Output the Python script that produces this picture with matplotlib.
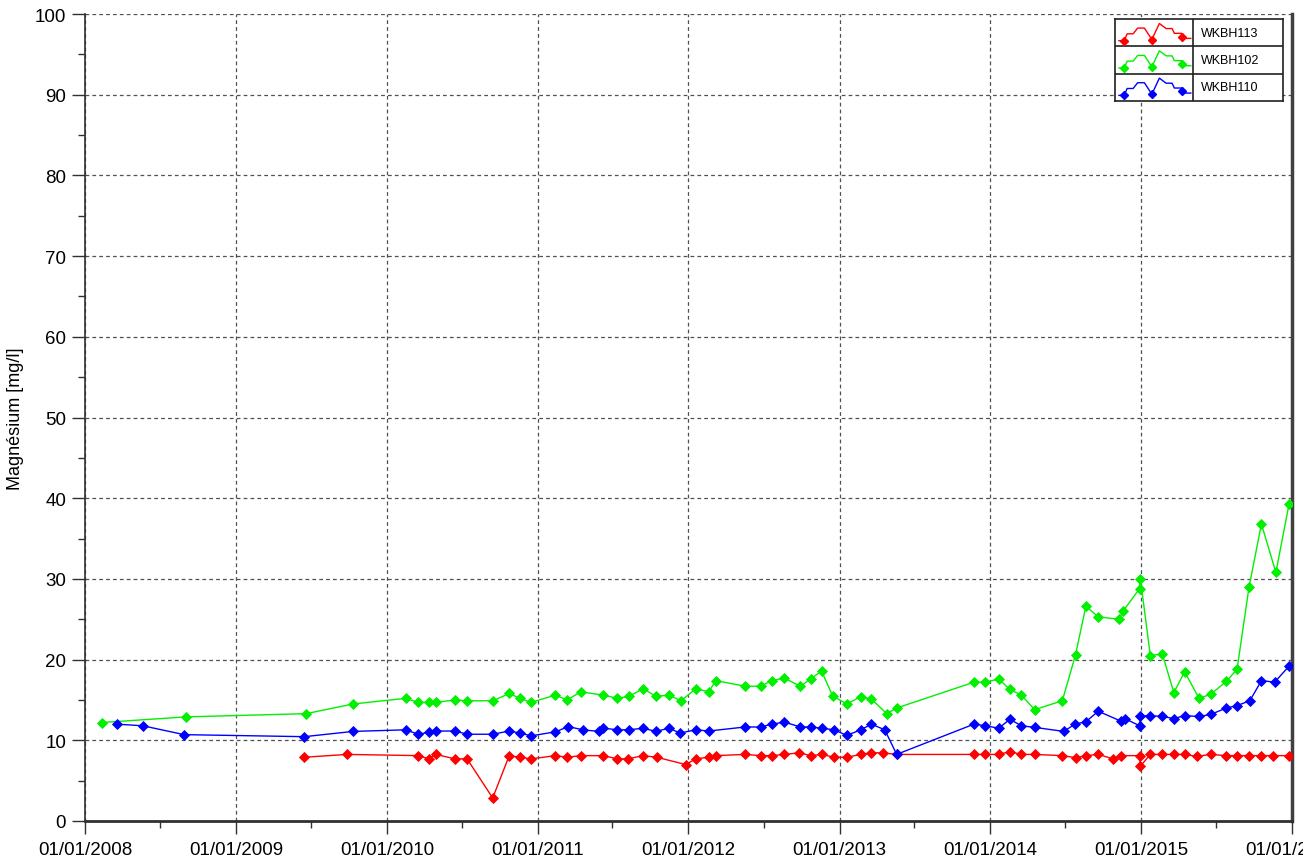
import matplotlib
matplotlib.use("Agg")
import matplotlib.pyplot as plt
import matplotlib.dates as mdates
import pandas as pd

plt.rcParams['font.family'] = ['Liberation Sans', 'DejaVu Sans']

# ---------------- data ----------------
series_names = ["WKBH113", "WKBH102", "WKBH110"]
series_colors = ["#ff0000", "#00f000", "#0000ff"]

green_dates = ["2008-02-10", "2008-09-01", "2009-06-19", "2009-10-11", "2010-02-15", "2010-03-18",
               "2010-04-13", "2010-04-29", "2010-06-15", "2010-07-14", "2010-09-15", "2010-10-24",
               "2010-11-19", "2010-12-16", "2011-02-13", "2011-03-13", "2011-04-15", "2011-06-09",
               "2011-07-13", "2011-08-10", "2011-09-13", "2011-10-14", "2011-11-15", "2011-12-14",
               "2012-01-19", "2012-02-19", "2012-03-07", "2012-05-17", "2012-06-24", "2012-07-20",
               "2012-08-20", "2012-09-28", "2012-10-23", "2012-11-18", "2012-12-15", "2013-01-18",
               "2013-02-21", "2013-03-19", "2013-04-25", "2013-05-19", "2013-11-22", "2013-12-20",
               "2014-01-21", "2014-02-17", "2014-03-17", "2014-04-18", "2014-06-24", "2014-07-26",
               "2014-08-20", "2014-09-19", "2014-11-08", "2014-11-18", "2014-12-28", "2014-12-30",
               "2015-01-23", "2015-02-21", "2015-03-21", "2015-04-16", "2015-05-21", "2015-06-18",
               "2015-07-26", "2015-08-21", "2015-09-19", "2015-10-19", "2015-11-23", "2015-12-25"]
green_values = [12.2, 12.9, 13.3, 14.5, 15.2, 14.7,
                14.7, 14.7, 15.0, 14.9, 14.9, 15.8,
                15.2, 14.7, 15.6, 15.0, 16.0, 15.6,
                15.2, 15.45, 16.4, 15.45, 15.6, 14.9,
                16.4, 16.0, 17.4, 16.7, 16.7, 17.4,
                17.7, 16.7, 17.6, 18.6, 15.5, 14.5,
                15.4, 15.1, 13.3, 14.0, 17.2, 17.2,
                17.6, 16.3, 15.6, 13.8, 14.9, 20.6,
                26.6, 25.3, 25.0, 26.0, 28.8, 30.0,
                20.5, 20.7, 15.9, 18.5, 15.2, 15.7,
                17.3, 18.8, 29.0, 36.8, 30.8, 39.3]

blue_dates = ["2008-03-18", "2008-05-20", "2008-08-28", "2009-06-15", "2009-10-11", "2010-02-15",
              "2010-03-18", "2010-04-13", "2010-04-29", "2010-06-15", "2010-07-14", "2010-09-14",
              "2010-10-24", "2010-11-19", "2010-12-16", "2011-02-13", "2011-03-16", "2011-04-20",
              "2011-05-29", "2011-06-09", "2011-07-13", "2011-08-10", "2011-09-13", "2011-10-14",
              "2011-11-15", "2011-12-11", "2012-01-19", "2012-02-19", "2012-05-17", "2012-06-24",
              "2012-07-20", "2012-08-20", "2012-09-28", "2012-10-23", "2012-11-18", "2012-12-19",
              "2013-01-18", "2013-02-21", "2013-03-19", "2013-04-20", "2013-05-19", "2013-11-22",
              "2013-12-20", "2014-01-21", "2014-02-17", "2014-03-17", "2014-04-18", "2014-06-28",
              "2014-07-24", "2014-08-20", "2014-09-19", "2014-11-14", "2014-11-22", "2014-12-28",
              "2014-12-30", "2015-01-23", "2015-02-21", "2015-03-21", "2015-04-16", "2015-05-21",
              "2015-06-18", "2015-07-26", "2015-08-21", "2015-09-21", "2015-10-19", "2015-11-20",
              "2015-12-25"]
blue_values = [12.0, 11.8, 10.7, 10.45, 11.1, 11.3,
               10.75, 11.0, 11.15, 11.15, 10.75, 10.75,
               11.15, 10.9, 10.55, 11.05, 11.7, 11.3,
               11.1, 11.5, 11.3, 11.3, 11.5, 11.1,
               11.5, 10.9, 11.3, 11.15, 11.65, 11.65,
               12.0, 12.25, 11.65, 11.65, 11.5, 11.3,
               10.6, 11.3, 12.0, 11.3, 8.26, 12.0,
               11.8, 11.5, 12.6, 11.8, 11.6, 11.1,
               12.0, 12.3, 13.6, 12.35, 12.7, 11.8,
               13.0, 13.05, 12.95, 12.7, 13.05, 12.95,
               13.2, 14.0, 14.3, 14.9, 17.4, 17.2,
               19.2]

red_dates = ["2009-06-15", "2009-09-27", "2010-03-18", "2010-04-13", "2010-04-29", "2010-06-15",
             "2010-07-14", "2010-09-14", "2010-10-24", "2010-11-19", "2010-12-16", "2011-02-13",
             "2011-03-13", "2011-04-15", "2011-06-09", "2011-07-13", "2011-08-07", "2011-09-13",
             "2011-10-16", "2011-12-25", "2012-01-19", "2012-02-19", "2012-03-07", "2012-05-17",
             "2012-06-24", "2012-07-20", "2012-08-20", "2012-09-25", "2012-10-23", "2012-11-18",
             "2012-12-19", "2013-01-18", "2013-02-21", "2013-03-19", "2013-04-15", "2013-05-19",
             "2013-11-22", "2013-12-20", "2014-01-21", "2014-02-17", "2014-03-17", "2014-04-18",
             "2014-06-24", "2014-07-26", "2014-08-20", "2014-09-19", "2014-10-25", "2014-11-14",
             "2014-12-28", "2014-12-30", "2015-01-23", "2015-02-21", "2015-03-21", "2015-04-16",
             "2015-05-15", "2015-06-18", "2015-07-26", "2015-08-21", "2015-09-19", "2015-10-19",
             "2015-11-16", "2015-12-25"]
red_values = [7.9, 8.25, 8.1, 7.7, 8.25, 7.7,
              7.7, 2.85, 8.1, 7.9, 7.7, 8.1,
              7.9, 8.1, 8.1, 7.7, 7.7, 8.1,
              7.9, 7.0, 7.7, 7.9, 8.1, 8.25,
              8.1, 8.1, 8.25, 8.45, 8.1, 8.25,
              7.9, 7.9, 8.25, 8.45, 8.45, 8.25,
              8.25, 8.25, 8.25, 8.6, 8.25, 8.25,
              8.1, 7.85, 8.1, 8.25, 7.7, 8.1,
              8.1, 6.8, 8.25, 8.25, 8.25, 8.25,
              8.0, 8.25, 8.1, 8.1, 8.1, 8.1,
              8.1, 8.1]

y_label = "Magnésium [mg/l]"
x_start, x_end = "2008-01-01", "2016-01-01"
y_ticks = list(range(0, 101, 10))

# ---------------- figure ----------------
fig = plt.figure(figsize=(13.03, 8.62), dpi=100)
ax = fig.add_axes([85 / 1303, 40 / 862, 1207 / 1303, 807 / 862])

all_dates = [red_dates, green_dates, blue_dates]
all_vals = [red_values, green_values, blue_values]
for d, v, c in zip(all_dates, all_vals, series_colors):
    ax.plot(pd.to_datetime(d), v, color=c, lw=1.0, marker='D', markersize=4.6,
            markeredgewidth=0.6, markeredgecolor=c, zorder=3)

ax.set_xlim(pd.Timestamp(x_start), pd.Timestamp(x_end))
ax.set_ylim(0, 100)
ax.set_yticks(y_ticks)
ax.set_yticks(list(range(5, 100, 10)), minor=True)
ax.xaxis.set_major_locator(mdates.YearLocator())
ax.xaxis.set_major_formatter(mdates.DateFormatter('%d/%m/%Y'))
ax.xaxis.set_minor_locator(mdates.MonthLocator(bymonth=7))

gcol = '#505050'
ax.grid(True, which='major', color=gcol, linestyle=(0, (3, 2.5)), linewidth=0.9)
ax.tick_params(which='major', direction='out', length=9.5, width=1.0, color='#303030',
               labelsize=13.5, pad=4, labelcolor='#000000')
ax.tick_params(which='minor', direction='out', length=5, width=1.0, color='#303030')
ax.tick_params(axis='x', which='major', pad=5)

ax.spines['top'].set_visible(False)
ax.spines['left'].set_color('#303030')
ax.spines['left'].set_linewidth(1.2)
ax.spines['bottom'].set_color('#303030')
ax.spines['bottom'].set_linewidth(2.0)
ax.spines['right'].set_color('#404040')
ax.spines['right'].set_linewidth(2.5)

ax.set_ylabel(y_label, fontsize=13, labelpad=8)

# ---------------- legend (table style) ----------------
leg = fig.add_axes([1115 / 1303, (862 - 102) / 862, 168 / 1303, 82 / 862])
leg.set_xlim(0, 1)
leg.set_ylim(0, 3)
leg.set_xticks([])
leg.set_yticks([])
for s in leg.spines.values():
    s.set_color('#202020')
    s.set_linewidth(1.2)
colw = 78 / 168
leg.axvline(colw, color='#202020', lw=1.2)
for k in (1, 2):
    leg.axhline(k, color='#202020', lw=1.2)

icon_x = [0.03, 0.10, 0.14, 0.22, 0.28, 0.37, 0.47, 0.57, 0.66, 0.74, 0.77, 0.87, 0.90, 0.99]
icon_y = [0.15, 0.15, 0.45, 0.45, 0.70, 0.70, 0.20, 0.90, 0.68, 0.68, 0.47, 0.47, 0.25, 0.25]
icon_mk = [1, 6, 11]
for i, (name, c) in enumerate(zip(series_names, series_colors)):
    row = 2 - i
    xs = [0.01 + colw * 0.96 * t for t in icon_x]
    ys = [row + 0.08 + 0.84 * t for t in icon_y]
    leg.plot(xs, ys, color=c, lw=1.0)
    leg.plot([xs[j] for j in icon_mk], [ys[j] - (0.12 if j == 11 else 0.0) for j in icon_mk],
             linestyle='none', marker='D', markersize=4.2, color=c)
    leg.text(colw + 0.05, row + 0.5, name, fontsize=9, va='center', ha='left')

fig.savefig("out.png", dpi=100)
